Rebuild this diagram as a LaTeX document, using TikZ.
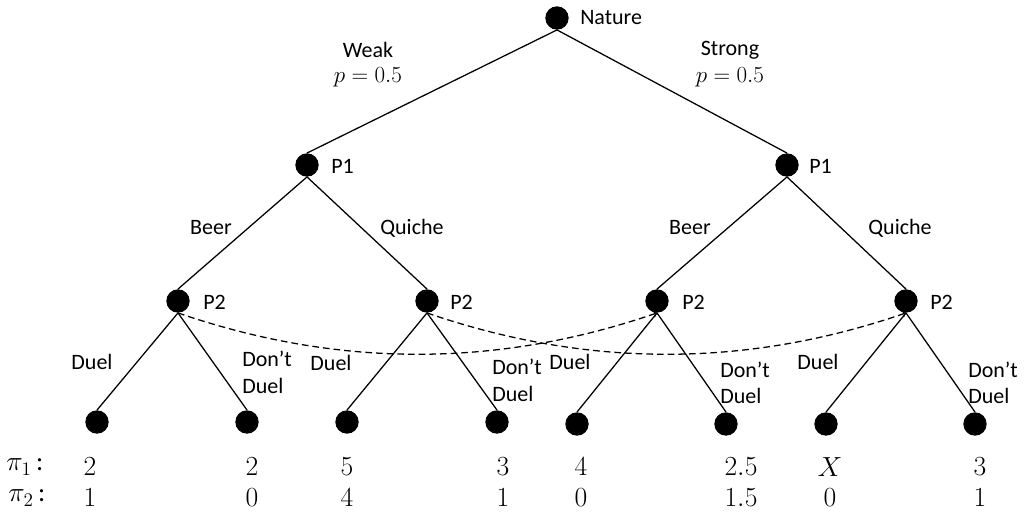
\documentclass[tikz,border=0pt]{standalone}
\usepackage{fontspec}
\setmainfont{Carlito}
\begin{document}
\begin{tikzpicture}[x=0.75pt,y=-0.75pt,
  dot/.style={circle,fill=black,inner sep=0pt,minimum size=17.5pt},
  lbl/.style={font=\fontsize{16.5}{19}\selectfont,inner sep=0pt},
  pay/.style={font=\fontsize{20}{23}\selectfont,inner sep=0pt},
  edge/.style={line width=0.95pt},
  info/.style={line width=0.95pt,dashed,dash pattern=on 5pt off 3pt,->,>=To}]
\useasboundingbox (0,0) rectangle (1026,527);
% nodes
\node[dot] (N) at (557,18) {};
\node[dot] (A) at (307,165) {};
\node[dot] (B) at (787,165) {};
\node[dot] (A1) at (178,301) {};
\node[dot] (A2) at (427,301) {};
\node[dot] (B1) at (657,301) {};
\node[dot] (B2) at (906,301) {};
\node[dot] (L1) at (97,422) {};
\node[dot] (L2) at (247,422) {};
\node[dot] (L3) at (347,422) {};
\node[dot] (L4) at (497,422) {};
\node[dot] (L5) at (577,424) {};
\node[dot] (L6) at (726,424) {};
\node[dot] (L7) at (826,424) {};
\node[dot] (L8) at (975,424) {};
% node labels
\node[lbl,anchor=west] (tN) at (580,18) {Nature};
\node[lbl,anchor=west] (tA) at (331,166) {P1};
\node[lbl,anchor=west] (tB) at (809,166) {P1};
\node[lbl,anchor=west] (tA1) at (203,302) {P2};
\node[lbl,anchor=west] (tA2) at (450,302) {P2};
\node[lbl,anchor=west] (tB1) at (682,302) {P2};
\node[lbl,anchor=west] (tB2) at (930,302) {P2};
% edges
\draw[edge] (N.south) -- (A.north);
\draw[edge] (N.south) -- (B.north);
\draw[edge] (A.south) -- (A1.north);
\draw[edge] (A.south) -- (A2.north);
\draw[edge] (B.south) -- (B1.north);
\draw[edge] (B.south) -- (B2.north);
\draw[edge] (A1.south) -- (L1.north);
\draw[edge] (A1.south) -- (L2.north);
\draw[edge] (A2.south) -- (L3.north);
\draw[edge] (A2.south) -- (L4.north);
\draw[edge] (B1.south) -- (L5.north);
\draw[edge] (B1.south) -- (L6.north);
\draw[edge] (B2.south) -- (L7.north);
\draw[edge] (B2.south) -- (L8.north);
% information sets
\draw[info] (A1.south) .. controls (338,368) and (497,368) .. (B1.south);
\draw[info] (A2.south) .. controls (587,368) and (746,368) .. (B2.south);
% edge labels
\node[lbl] (w1) at (368,50) {Weak};
\node[lbl] (w2) at (368,77) {$p=0.5$};
\node[lbl] (s1) at (730,50) {Strong};
\node[lbl] (s2) at (730,77) {$p=0.5$};
\node[lbl] (b1) at (211,228) {Beer};
\node[lbl] (q1) at (412,228) {Quiche};
\node[lbl] (b2) at (690,228) {Beer};
\node[lbl] (q2) at (900,228) {Quiche};
\node[lbl] (d1) at (92,362) {Duel};
\node[lbl,anchor=west] (n1a) at (242,359) {Don’t};
\node[lbl,anchor=west] (n1b) at (242,386) {Duel};
\node[lbl] (d2) at (331,363) {Duel};
\node[lbl,anchor=west] (n2a) at (492,367) {Don’t};
\node[lbl,anchor=west] (n2b) at (492,394) {Duel};
\node[lbl] (d3) at (570,362) {Duel};
\node[lbl,anchor=west] (n3a) at (720,370) {Don’t};
\node[lbl,anchor=west] (n3b) at (720,396) {Duel};
\node[lbl] (d4) at (818,362) {Duel};
\node[lbl,anchor=west] (n4a) at (968,370) {Don’t};
\node[lbl,anchor=west] (n4b) at (968,396) {Duel};
% payoffs
\node[pay,anchor=west] (p1) at (6,467) {$\pi_1$\,:};
\node[pay,anchor=west] (p2) at (8,498) {$\pi_2$\,:};
\node[pay] (a1) at (90,467) {$2$};
\node[pay] (a2) at (252,467) {$2$};
\node[pay] (a3) at (347,467) {$5$};
\node[pay] (a4) at (503,467) {$3$};
\node[pay] (a5) at (581,467) {$4$};
\node[pay] (a6) at (741,467) {$2.5$};
\node[pay] (a7) at (830,467) {$X$};
\node[pay] (a8) at (980,467) {$3$};
\node[pay] (c1) at (90,498) {$1$};
\node[pay] (c2) at (252,498) {$0$};
\node[pay] (c3) at (347,498) {$4$};
\node[pay] (c4) at (503,498) {$1$};
\node[pay] (c5) at (581,498) {$0$};
\node[pay] (c6) at (741,498) {$1.5$};
\node[pay] (c7) at (830,498) {$0$};
\node[pay] (c8) at (980,498) {$1$};
\end{tikzpicture}
\end{document}
